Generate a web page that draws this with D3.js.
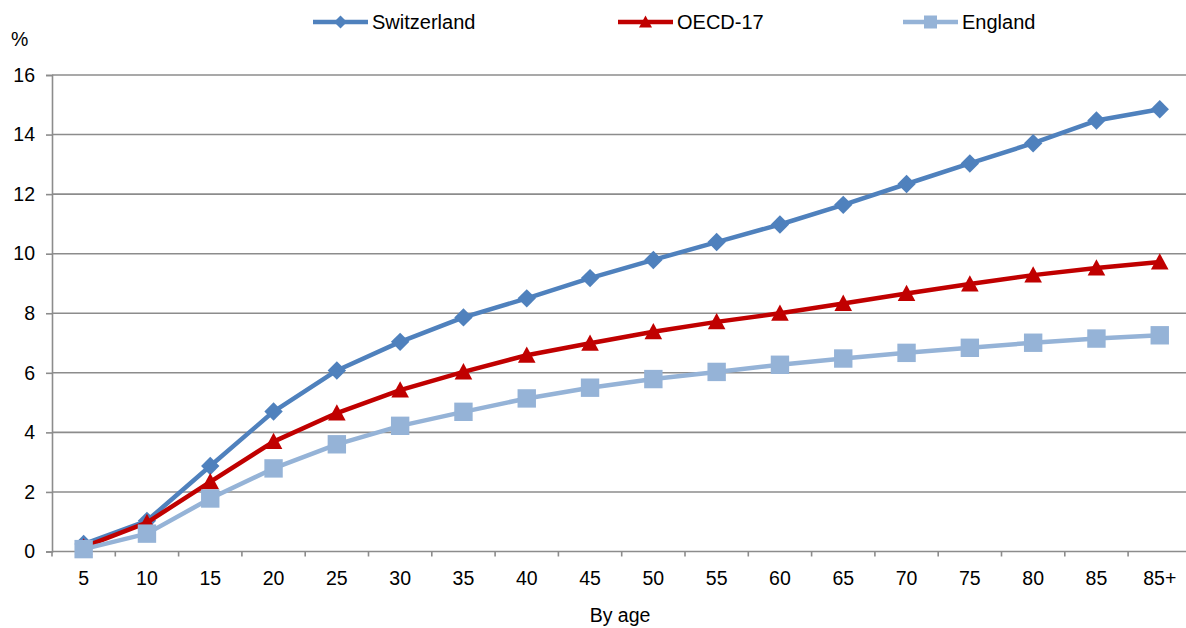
<!DOCTYPE html>
<html><head><meta charset="utf-8">
<script src="https://cdn.jsdelivr.net/npm/d3@7"></script>
<style>body{margin:0;background:#fff;} svg{display:block;font-family:"Liberation Sans",Arial,sans-serif;}</style>
</head><body>
<svg id="c" width="1186" height="628"></svg>
<script>
const categories = ["5","10","15","20","25","30","35","40","45","50","55","60","65","70","75","80","85","85+"];
const switzerland = [0.25,1.03,2.87,4.70,6.08,7.04,7.86,8.50,9.18,9.79,10.39,10.98,11.64,12.34,13.03,13.71,14.47,14.85];
const oecd17 = [0.15,0.97,2.34,3.69,4.65,5.42,6.03,6.59,6.99,7.38,7.71,8.00,8.33,8.66,8.98,9.28,9.52,9.72];
const england = [0.08,0.60,1.78,2.79,3.60,4.22,4.69,5.14,5.50,5.79,6.03,6.27,6.48,6.67,6.84,7.01,7.15,7.26];
const yTicks = [0,2,4,6,8,10,12,14,16];
const seriesNames = ["Switzerland","OECD-17","England"];

// marker shapes (r = half size in px)
const diamond = r => `M0,${-r}L${r},0L0,${r}L${-r},0Z`;
const triangle = r => `M0,${-r}L${r},${r*0.85}L${-r},${r*0.85}Z`;
const square = r => `M${-r},${-r}H${r}V${r}H${-r}Z`;

const series = [
  {name: seriesNames[0], values: switzerland, color: "#4F81BD", shape: diamond, r: 9.2, lr: 6.5, legendX: 313},
  {name: seriesNames[1], values: oecd17, color: "#C00000", shape: triangle, r: 8.8, lr: 6.5, legendX: 618},
  {name: seriesNames[2], values: england, color: "#95B3D7", shape: square, r: 9.2, lr: 6.5, legendX: 903}
];

const svg = d3.select("#c");
const left = 52, bw = 63.3;
const x = d3.scaleBand().domain(categories).range([left, left + bw*categories.length]);
const y = d3.scaleLinear().domain([0,16]).range([551.5, 75]);
const grid = "#8C8C8C";
const fs = 19.5;

// gridlines
svg.append("g").selectAll("line").data(yTicks.filter(d=>d>0)).join("line")
  .attr("x1", left).attr("x2", 1186).attr("y1", d=>y(d)).attr("y2", d=>y(d))
  .attr("stroke", grid).attr("stroke-width", 1.6);

// y axis
const yAxis = svg.append("g").attr("transform", `translate(${left},0)`)
  .call(d3.axisLeft(y).tickValues(yTicks).tickSize(6).tickPadding(11).tickFormat(d3.format("d")));
yAxis.select(".domain").attr("stroke", grid).attr("stroke-width", 1.6);
yAxis.selectAll(".tick line").attr("stroke", grid).attr("stroke-width", 1.6);
yAxis.selectAll("text").attr("font-size", fs).attr("fill", "#000").attr("font-family", "Liberation Sans, Arial, sans-serif");

// x axis
const xAxis = svg.append("g").attr("transform", `translate(0,${y(0)})`)
  .call(d3.axisBottom(x).tickSize(0).tickPadding(20));
xAxis.select(".domain").remove();
svg.append("line").attr("x1", left).attr("x2", 1186).attr("y1", y(0)).attr("y2", y(0))
  .attr("stroke", grid).attr("stroke-width", 1.6);
svg.append("g").selectAll("line").data(categories).join("line")
  .attr("x1", d=>x(d)).attr("x2", d=>x(d)).attr("y1", y(0)).attr("y2", y(0)+5)
  .attr("stroke", grid).attr("stroke-width", 1.6);
xAxis.selectAll("text").attr("font-size", fs).attr("fill", "#000").attr("font-family", "Liberation Sans, Arial, sans-serif");

// titles
svg.append("text").attr("x", 11).attr("y", 46).attr("font-size", fs).text("%");
svg.append("text").attr("x", 620).attr("y", 622).attr("text-anchor", "middle").attr("font-size", fs).text("By age");

// lines
const cx = d => x(d) + x.bandwidth()/2;
series.forEach(s => {
  const g = svg.append("g");
  g.append("path").datum(s.values)
    .attr("d", d3.line().x((d,i)=>cx(categories[i])).y(d=>y(d)))
    .attr("fill", "none").attr("stroke", s.color).attr("stroke-width", 4.5).attr("stroke-linejoin", "round");
  g.selectAll("path.m").data(s.values).join("path").attr("class","m")
    .attr("transform", (d,i)=>`translate(${cx(categories[i])},${y(d)})`)
    .attr("d", s.shape(s.r))
    .attr("fill", s.color);
});

// legend
series.forEach(s => {
  const g = svg.append("g");
  const ly = 22;
  g.append("line").attr("x1", s.legendX).attr("x2", s.legendX+55).attr("y1", ly).attr("y2", ly)
    .attr("stroke", s.color).attr("stroke-width", 4.5);
  g.append("path").attr("transform", `translate(${s.legendX+27.5},${ly})`)
    .attr("d", s.shape(s.lr)).attr("fill", s.color);
  g.append("text").attr("x", s.legendX+59).attr("y", ly+7).attr("font-size", fs+0.5).text(s.name);
});
</script>
</body></html>
